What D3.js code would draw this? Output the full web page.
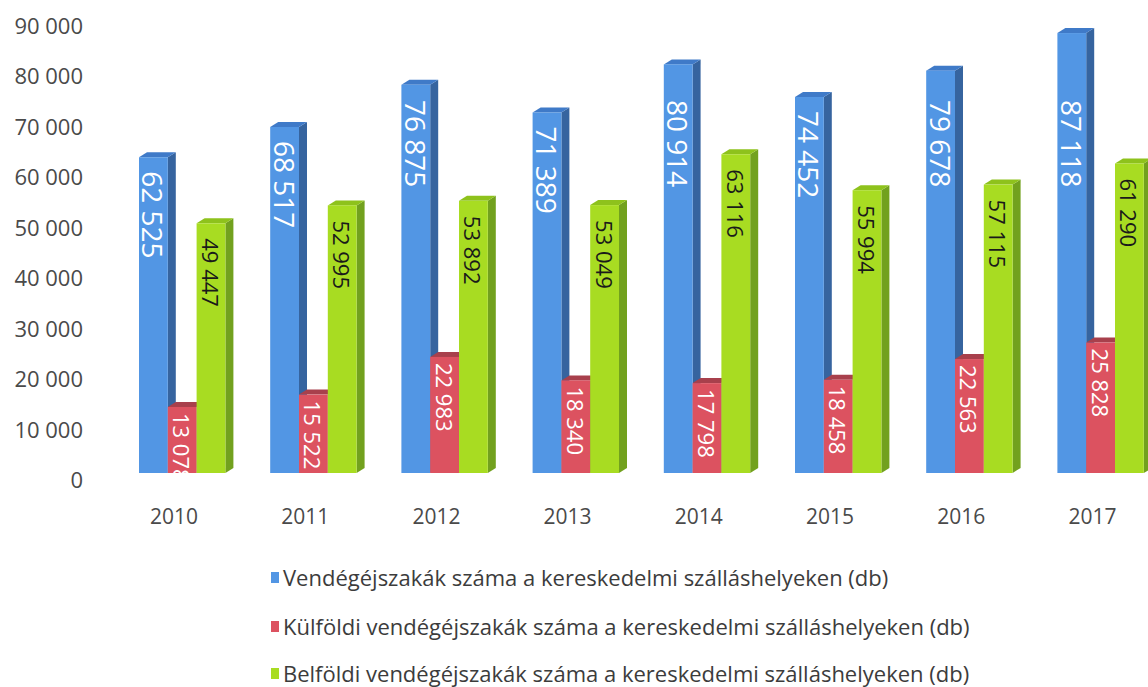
<!DOCTYPE html>
<html>
<head>
<meta charset="utf-8">
<script src="https://cdn.jsdelivr.net/npm/d3@7"></script>
<style>
  html, body { margin: 0; padding: 0; background: #fff; }
  svg { display: block; }
  text { font-family: "Open Sans", "Noto Sans", sans-serif; }
</style>
</head>
<body>
<svg id="chart" width="1148" height="687"></svg>
<script>
// Guest nights in commercial accommodation, 2010–2017
const years = ["2010", "2011", "2012", "2013", "2014", "2015", "2016", "2017"];
const totalNights = [62525, 68517, 76875, 71389, 80914, 74452, 79678, 87118];
const foreignNights = [13078, 15522, 22983, 18340, 17798, 18458, 22563, 25828];
const domesticNights = [49447, 52995, 53892, 53049, 63116, 55994, 57115, 61290];
const seriesNames = [
  "Vendégéjszakák száma a kereskedelmi szálláshelyeken (db)",
  "Külföldi vendégéjszakák száma a kereskedelmi szálláshelyeken (db)",
  "Belföldi vendégéjszakák száma a kereskedelmi szálláshelyeken (db)"
];
const yTicks = [0, 10000, 20000, 30000, 40000, 50000, 60000, 70000, 80000, 90000];

// Face colours for each series: front, top, side
const palette = [
  { front: "#5296e4", top: "#3f7ac8", side: "#36649f", label: "#ffffff", size: 28 },
  { front: "#dc5260", top: "#a8404c", side: "#8e3440", label: "#ffffff", size: 22 },
  { front: "#a8dc22", top: "#8ec21c", side: "#72a11e", label: "#1a1a1a", size: 22 }
];

const series = [totalNights, foreignNights, domesticNights];
const rows = years.map((yr, i) => ({ year: yr, values: series.map(s => s[i]) }));

const svg = d3.select("#chart");
const fmt = d3.formatLocale({ decimal: ",", thousands: " ", grouping: [3], currency: ["", ""] }).format(",d");

// Depth of the extruded bars
const depthX = 8, depthY = 5;

const x0 = d3.scaleBand().domain(years).range([108.4, 1158]).paddingInner(0).paddingOuter(0);
const x1 = d3.scaleBand().domain([0, 1, 2]).range([30.6, 117]).padding(0);
const y = d3.scaleLinear().domain([0, 90000]).range([473, 18.5]);

// Value axis (labels only)
const yAxis = d3.axisLeft(y).tickValues(yTicks).tickFormat(fmt).tickSize(0).tickPadding(0);
const yg = svg.append("g").attr("transform", "translate(83,7.5)").call(yAxis);
yg.select(".domain").remove();
yg.selectAll("text")
  .attr("fill", "#4a4a4a")
  .style("font-size", "22px")
  .style("font-family", "'Open Sans', sans-serif");

// Category axis (labels only)
const xAxis = d3.axisBottom(x0).tickSize(0).tickPadding(0);
const xg = svg.append("g").attr("transform", "translate(0,509)").call(xAxis);
xg.select(".domain").remove();
xg.selectAll("text")
  .attr("fill", "#4a4a4a")
  .attr("dy", "0.71em")
  .style("font-size", "21px")
  .style("font-family", "'Open Sans', sans-serif");

// Bars
const groups = svg.append("g").selectAll("g.year")
  .data(rows).join("g")
  .attr("class", "year")
  .attr("transform", d => `translate(${x0(d.year)},0)`);

const labelCeilY = 100;

groups.each(function(d) {
  const g = d3.select(this);
  d.values.forEach((v, k) => {
    const c = palette[k];
    const xl = x1(k), w = x1.bandwidth();
    const yt = y(v), yb = y(0);
    // right side face
    g.append("path")
      .attr("d", `M${xl + w},${yt} L${xl + w + depthX},${yt - depthY} L${xl + w + depthX},${yb - depthY} L${xl + w},${yb} Z`)
      .attr("fill", c.side);
    // top face
    g.append("path")
      .attr("d", `M${xl},${yt} L${xl + depthX},${yt - depthY} L${xl + w + depthX},${yt - depthY} L${xl + w},${yt} Z`)
      .attr("fill", c.top);
    // front face
    g.append("rect")
      .attr("x", xl).attr("y", yt)
      .attr("width", w).attr("height", yb - yt)
      .attr("fill", c.front);
  });
  // value labels, rotated to read downwards
  d.values.forEach((v, k) => {
    const c = palette[k];
    const cx = x1(k) + x1.bandwidth() / 2;
    const yt = y(v);
    const start = k === 0 ? Math.max(yt + 14, labelCeilY) : (k === 1 ? yt + 6 : yt + 15);
    g.append("text")
      .attr("transform", `translate(${cx},${start}) rotate(90)`)
      .attr("dominant-baseline", "central")
      .attr("text-anchor", "start")
      .attr("fill", c.label)
      .style("font-size", c.size + "px")
      .text(fmt(v));
  });
});

// Legend
const legend = svg.append("g").attr("transform", "translate(271,0)");
const legendY = [577, 626, 673];
seriesNames.forEach((name, k) => {
  legend.append("rect")
    .attr("x", 0).attr("y", legendY[k] - 5)
    .attr("width", 8).attr("height", 11)
    .attr("fill", palette[k].front);
  legend.append("text")
    .attr("x", 12).attr("y", legendY[k])
    .attr("dominant-baseline", "central")
    .attr("fill", "#3c3c3c")
    .style("font-size", "22px")
    .text(name);
});
</script>
</body>
</html>
